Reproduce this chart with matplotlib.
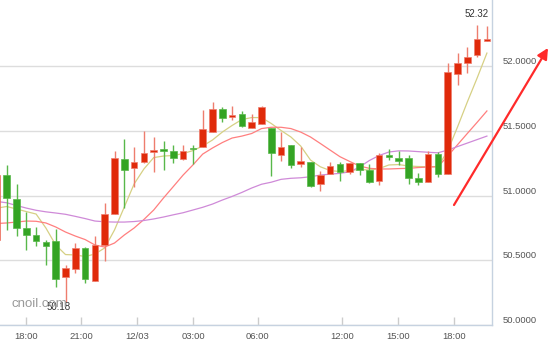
import matplotlib.pyplot as plt
import numpy as np
from matplotlib.patches import FancyArrowPatch

# candle -1 is the one cut off at the left edge
idx = np.arange(-1, 50)

opens = [50.656, 51.158, 50.971, 50.751, 50.695, 50.639, 50.651, 50.368, 50.430, 50.592,
         50.340, 50.618, 50.857, 51.282, 51.215, 51.256, 51.336, 51.361, 51.346, 51.282,
         51.364, 51.372, 51.493, 51.668, 51.609, 51.627, 51.524, 51.552, 51.524, 51.313,
         51.390, 51.243, 51.261, 51.089, 51.166, 51.243, 51.179, 51.249, 51.197, 51.114,
         51.313, 51.287, 51.287, 51.137, 51.107, 51.318, 51.166, 51.936, 52.021, 52.085,
         52.193]
highs = [51.200, 51.236, 51.089, 50.875, 50.759, 50.656, 50.739, 50.463, 50.631, 50.600,
         50.687, 50.944, 51.344, 51.434, 51.377, 51.498, 51.449, 51.421, 51.390, 51.390,
         51.390, 51.660, 51.720, 51.681, 51.691, 51.652, 51.629, 51.691, 51.524, 51.493,
         51.390, 51.372, 51.261, 51.189, 51.256, 51.256, 51.249, 51.249, 51.241, 51.331,
         51.357, 51.346, 51.313, 51.171, 51.344, 51.338, 52.021, 52.098, 52.144, 52.317,
         52.310]
lows = [50.620, 50.734, 50.687, 50.579, 50.610, 50.463, 50.296, 50.180, 50.399, 50.327,
        50.340, 50.497, 50.857, 50.901, 51.068, 51.249, 51.184, 51.197, 51.249, 51.274,
        51.243, 51.372, 51.493, 51.570, 51.583, 51.532, 51.524, 51.552, 51.151, 51.269,
        51.215, 51.218, 51.068, 51.035, 51.166, 51.112, 51.164, 51.158, 51.094, 51.081,
        51.274, 51.236, 51.087, 51.081, 51.107, 51.145, 51.166, 51.853, 51.948, 52.072,
        52.193]
closes = [51.158, 50.980, 50.751, 50.695, 50.649, 50.608, 50.355, 50.442, 50.592, 50.355,
          50.618, 50.857, 51.287, 51.197, 51.256, 51.326, 51.349, 51.346, 51.287, 51.346,
          51.357, 51.511, 51.668, 51.596, 51.622, 51.539, 51.568, 51.686, 51.326, 51.377,
          51.236, 51.269, 51.076, 51.158, 51.228, 51.179, 51.249, 51.197, 51.102, 51.313,
          51.300, 51.266, 51.137, 51.107, 51.318, 51.166, 51.956, 52.025, 52.069, 52.206,
          52.206]

ma_fast = [50.903, 50.915, 50.896, 50.876, 50.857, 50.749, 50.618, 50.544, 50.541, 50.529,
           50.548, 50.595, 50.734, 50.911, 51.089, 51.205, 51.293, 51.305, 51.309, 51.324,
           51.347, 51.382, 51.429, 51.490, 51.541, 51.587, 51.602, 51.602, 51.556, 51.502,
           51.452, 51.382, 51.274, 51.222, 51.193, 51.185, 51.193, 51.201, 51.197, 51.208,
           51.236, 51.239, 51.228, 51.224, 51.222, 51.224, 51.344, 51.529, 51.722, 51.907,
           52.100]
ma_mid = [50.784, 50.788, 50.795, 50.803, 50.801, 50.788, 50.757, 50.718, 50.687, 50.660,
          50.618, 50.602, 50.633, 50.695, 50.749, 50.815, 50.888, 50.981, 51.069, 51.158,
          51.236, 51.320, 51.367, 51.409, 51.444, 51.459, 51.479, 51.517, 51.527, 51.527,
          51.517, 51.490, 51.452, 51.402, 51.351, 51.300, 51.263, 51.228, 51.210, 51.205,
          51.205, 51.208, 51.210, 51.216, 51.220, 51.222, 51.305, 51.392, 51.479, 51.565,
          51.653]
ma_slow = [50.954, 50.944, 50.923, 50.903, 50.886, 50.874, 50.865, 50.855, 50.839, 50.822,
           50.803, 50.797, 50.795, 50.795, 50.799, 50.807, 50.819, 50.834, 50.851, 50.867,
           50.888, 50.909, 50.934, 50.965, 50.993, 51.024, 51.058, 51.087, 51.103, 51.125,
           51.133, 51.137, 51.145, 51.158, 51.165, 51.171, 51.183, 51.220, 51.270, 51.309,
           51.336, 51.345, 51.344, 51.339, 51.334, 51.330, 51.351, 51.378, 51.405, 51.432,
           51.459]

tick_labels = ["18:00", "21:00", "12/03", "03:00", "06:00", "12:00", "15:00", "18:00"]
tick_idx = [1.94, 7.58, 13.3, 19.04, 25.61, 34.18, 39.9, 45.64]
y_ticks = [50.0, 50.5, 51.0, 51.5, 52.0]

plt.rcParams['font.family'] = ['Liberation Sans', 'DejaVu Sans']

fig = plt.figure(figsize=(5.5, 3.41), dpi=100)
ax = fig.add_axes([0, 16 / 341, 492 / 550, 325 / 341])

# moving averages sit under the candles
ax.plot(idx, ma_fast, color='#d6d084', lw=0.9, zorder=2)
ax.plot(idx, ma_mid, color='#ff7f7f', lw=0.9, zorder=2)
ax.plot(idx, ma_slow, color='#cf8ad8', lw=0.9, zorder=2)

o = np.array(opens)
c = np.array(closes)
h = np.array(highs)
l = np.array(lows)
up = c >= o
body_col = np.where(up, '#e02a0a', '#34a424')
wick_col = np.where(up, '#ee7d6e', '#58b84a')
ax.vlines(idx, l, h, colors=wick_col, lw=1, zorder=3)
ax.bar(idx, np.maximum(np.abs(c - o), 0.012), bottom=np.minimum(o, c), width=0.66,
       color=body_col, edgecolor=wick_col, linewidth=0.5, zorder=4)

# max / min labels
i_max = int(np.argmax(h))
i_min = int(np.argmin(l))
ax.annotate(f"{h[i_max]:.2f}", (idx[i_max], h[i_max]), xytext=(0, 4), textcoords='offset points',
            ha='center', va='bottom', fontsize=7, color='#333333')
ax.annotate(f"{l[i_min]:.2f}", (idx[i_min], l[i_min]), xytext=(-5, 0), textcoords='offset points',
            ha='center', va='top', fontsize=7, color='#333333', zorder=6)

ax.set_xlim(-0.684, 49.52)
ax.set_ylim(50.0, 52.51)

ax.set_yticks(y_ticks)
ax.yaxis.tick_right()
ax.yaxis.set_major_formatter(plt.FormatStrFormatter('%.4f'))
ax.tick_params(axis='y', length=0, pad=8, labelsize=6.8, labelcolor='#555555')
for t in ax.get_yticklabels():
    t.set_va('bottom')
ax.grid(axis='y', color='#dddddd', lw=1)

ax.set_xticks(tick_idx)
ax.set_xticklabels(tick_labels)
ax.tick_params(axis='x', direction='in', length=6, width=1, color='#cccccc', pad=5,
               labelsize=6.8, labelcolor='#555555')

for s in ['top', 'left']:
    ax.spines[s].set_visible(False)
for s in ['right', 'bottom']:
    ax.spines[s].set_color('#c6d2e0')
    ax.spines[s].set_linewidth(1)

fig.text(11.7 / 550, 1 - 307 / 341, 'cnoil.com', fontsize=9.5, color='#999999', va='baseline')

arrow = FancyArrowPatch((454 / 550, 1 - 205 / 341), (548 / 550, 1 - 48 / 341),
                        transform=fig.transFigure, arrowstyle='-|>', mutation_scale=16,
                        color='#ff2a2a', lw=1.6, shrinkA=0, shrinkB=0)
fig.add_artist(arrow)

fig.savefig('out.png', dpi=100)
